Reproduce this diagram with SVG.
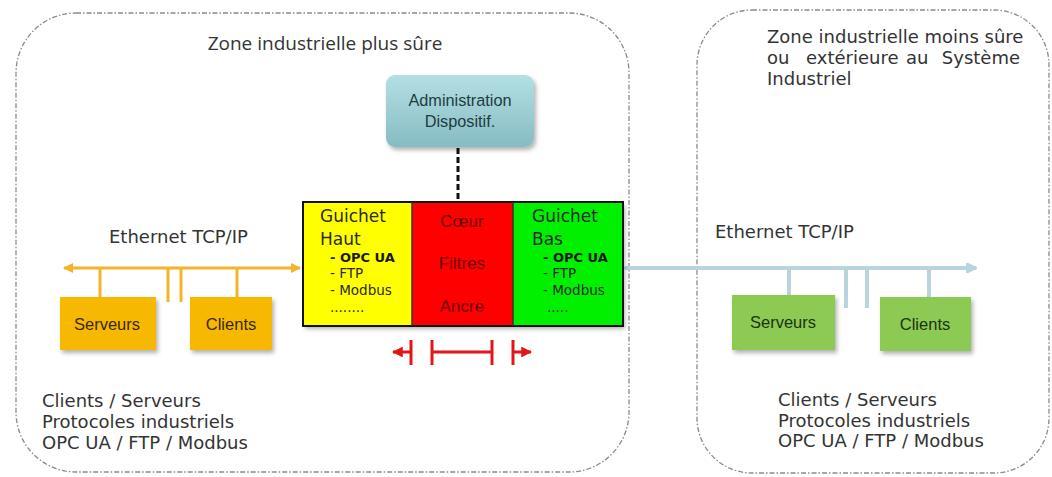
<svg xmlns="http://www.w3.org/2000/svg" width="1052" height="477" viewBox="0 0 1052 477">
<style>
.zone{fill:none;stroke:#8a8a8a;stroke-width:1.3;stroke-dasharray:5 2 1.5 2}
.vt{font-family:"DejaVu Sans",Verdana,sans-serif;font-size:18px;fill:#333}
.ttl{font-family:"Open Sans","DejaVu Sans",sans-serif;font-size:19px;fill:#333}
.ar{font-family:"Liberation Sans",Arial,sans-serif}
.bt{font-family:"Liberation Sans",Arial,sans-serif;font-size:16.5px;text-anchor:middle}
.g1{font-family:"DejaVu Sans",Verdana,sans-serif;font-size:17px;fill:#2a2a2a}
.g2{font-family:"DejaVu Sans",Verdana,sans-serif;font-size:13.5px;fill:#2a2a2a}
.g2b{font-family:"DejaVu Sans",Verdana,sans-serif;font-size:13px;font-weight:bold;fill:#1a1a1a}
.or{stroke:#f5b32a;stroke-width:3;fill:none}
.bl{stroke:#b9d4dc;stroke-width:4;fill:none}
.rd{stroke:#e3151a;stroke-width:3;fill:none}
.obox{fill:#f6b800}
.gbox{fill:#8dca52}
</style>
<defs>
<filter id="sh" x="-20%" y="-20%" width="150%" height="150%">
<feDropShadow dx="2" dy="3" stdDeviation="2" flood-color="#000" flood-opacity="0.3"/>
</filter>
<linearGradient id="adm" x1="0" y1="0" x2="0" y2="1">
<stop offset="0" stop-color="#b4e0e3"/>
<stop offset="1" stop-color="#86bcc3"/>
</linearGradient>
<marker id="aOr" viewBox="0 0 10 10" refX="9" refY="5" markerWidth="3.5" markerHeight="3.5" orient="auto-start-reverse">
<path d="M0,0 L10,5 L0,10 z" fill="#f5b32a"/>
</marker>
<marker id="aBl" viewBox="0 0 10 10" refX="9" refY="5" markerWidth="2.6" markerHeight="2.6" orient="auto">
<path d="M0,0 L10,5 L0,10 z" fill="#b9d4dc" stroke="#b9d4dc" stroke-linejoin="round" stroke-width="2"/>
</marker>
<marker id="aRd" viewBox="0 0 10 10" refX="9" refY="5" markerWidth="3.6" markerHeight="3.6" orient="auto">
<path d="M0,0 L10,5 L0,10 z" fill="#e3151a"/>
</marker>
</defs>
<rect width="1052" height="477" fill="#fff"/>

<g id="zone-sure">
<rect class="zone" x="16" y="13" width="613" height="459" rx="60"/>
<text class="ttl" x="325" y="50" text-anchor="middle">Zone industrielle plus sûre</text>
<text class="vt" x="42" y="407">Clients / Serveurs</text>
<text class="vt" x="42" y="428">Protocoles industriels</text>
<text class="vt" x="42" y="449">OPC UA / FTP / Modbus</text>
<text class="vt" x="109" y="243">Ethernet TCP/IP</text>
</g>

<g id="zone-moins-sure">
<rect class="zone" x="697" y="10" width="352" height="463" rx="55"/>
<text class="vt" x="767" y="43" font-size="17.7">Zone industrielle moins sûre</text>
<text class="vt" y="64" font-size="17.7"><tspan x="767">ou</tspan><tspan x="806">extérieure</tspan><tspan x="906">au</tspan><tspan x="1020" text-anchor="end">Système</tspan></text>
<text class="vt" x="767" y="85" font-size="17.7">Industriel</text>
<text class="vt" x="778" y="406">Clients / Serveurs</text>
<text class="vt" x="778" y="427">Protocoles industriels</text>
<text class="vt" x="778" y="447">OPC UA / FTP / Modbus</text>
<text class="vt" x="715" y="238">Ethernet TCP/IP</text>
</g>

<g id="connectors">
<line class="or" x1="64" y1="268" x2="300" y2="268" marker-start="url(#aOr)" marker-end="url(#aOr)"/>
<line class="or" x1="100" y1="268" x2="100" y2="297"/>
<line class="or" x1="168" y1="268" x2="168" y2="302"/>
<line class="or" x1="181" y1="268" x2="181" y2="302"/>
<line class="or" x1="237" y1="268" x2="237" y2="297"/>
<line class="bl" x1="626" y1="268" x2="975" y2="268" marker-end="url(#aBl)" stroke-linecap="round"/>
<line class="bl" x1="789" y1="268" x2="789" y2="295"/>
<line class="bl" x1="846" y1="268" x2="846" y2="308"/>
<line class="bl" x1="867" y1="268" x2="867" y2="308"/>
<line class="bl" x1="929" y1="268" x2="929" y2="297"/>
<line x1="458" y1="148" x2="458" y2="201" stroke="#111" stroke-width="3" stroke-dasharray="6 3"/>
<line class="rd" x1="411" y1="352" x2="393" y2="352" marker-end="url(#aRd)"/>
<line class="rd" x1="411" y1="340" x2="411" y2="365"/>
<line class="rd" x1="432" y1="340" x2="432" y2="365"/>
<line class="rd" x1="432" y1="352" x2="492" y2="352"/>
<line class="rd" x1="492" y1="340" x2="492" y2="365"/>
<line class="rd" x1="513" y1="340" x2="513" y2="365"/>
<line class="rd" x1="513" y1="352" x2="531" y2="352" marker-end="url(#aRd)"/>
</g>

<g id="administration">
<rect x="386" y="75" width="148" height="72" rx="9" fill="url(#adm)" filter="url(#sh)"/>
<text class="ar" x="460" y="106" font-size="16.3" text-anchor="middle" fill="#1e3c42">Administration</text>
<text class="ar" x="460" y="127" font-size="16.3" text-anchor="middle" fill="#1e3c42">Dispositif.</text>
</g>

<g id="passerelle">
<g filter="url(#sh)">
<rect x="303" y="202" width="320" height="124" fill="#000"/>
</g>
<rect x="304" y="203" width="108" height="122" fill="#ffff00"/>
<rect x="412" y="203" width="101" height="122" fill="#ff0000"/>
<rect x="513" y="203" width="109" height="122" fill="#00f000"/>
<rect x="303" y="202" width="320" height="124" fill="none" stroke="#111" stroke-width="2"/>
<line x1="412" y1="202" x2="412" y2="326" stroke="#333" stroke-width="1.5"/>
<line x1="513" y1="202" x2="513" y2="326" stroke="#333" stroke-width="1.5"/>
</g>

<g id="guichet-haut">
<text class="g1" x="320" y="222">Guichet</text>
<text class="g1" x="320" y="245">Haut</text>
<text class="g2b" x="330" y="262">- OPC UA</text>
<text class="g2" x="330" y="278">- FTP</text>
<text class="g2" x="330" y="295">- Modbus</text>
<text class="g2" x="330" y="312">........</text>
</g>

<g id="coeur">
<text class="ar" x="462" y="227" font-size="17" text-anchor="middle" fill="#6e0000">Cœur</text>
<text class="ar" x="462" y="269" font-size="17" text-anchor="middle" fill="#6e0000">Filtres</text>
<text class="ar" x="462" y="312" font-size="17" text-anchor="middle" fill="#6e0000">Ancre</text>
</g>

<g id="guichet-bas">
<text class="g1" x="532" y="222">Guichet</text>
<text class="g1" x="532" y="245">Bas</text>
<text class="g2b" x="543" y="262">- OPC UA</text>
<text class="g2" x="543" y="278">- FTP</text>
<text class="g2" x="543" y="295">- Modbus</text>
<text class="g2" x="547" y="312">.....</text>
</g>

<g id="serveurs-sure">
<rect class="obox" x="60" y="297" width="96" height="53" filter="url(#sh)"/>
<text class="bt" x="107" y="330" fill="#3a2800">Serveurs</text>
</g>
<g id="clients-sure">
<rect class="obox" x="190" y="297" width="82" height="53" filter="url(#sh)"/>
<text class="bt" x="231" y="330" fill="#3a2800">Clients</text>
</g>
<g id="serveurs-ext">
<rect class="gbox" x="732" y="295" width="103" height="55" filter="url(#sh)"/>
<text class="bt" x="783" y="328" fill="#1a3310">Serveurs</text>
</g>
<g id="clients-ext">
<rect class="gbox" x="880" y="297" width="91" height="54" filter="url(#sh)"/>
<text class="bt" x="925" y="330" fill="#1a3310">Clients</text>
</g>
</svg>
